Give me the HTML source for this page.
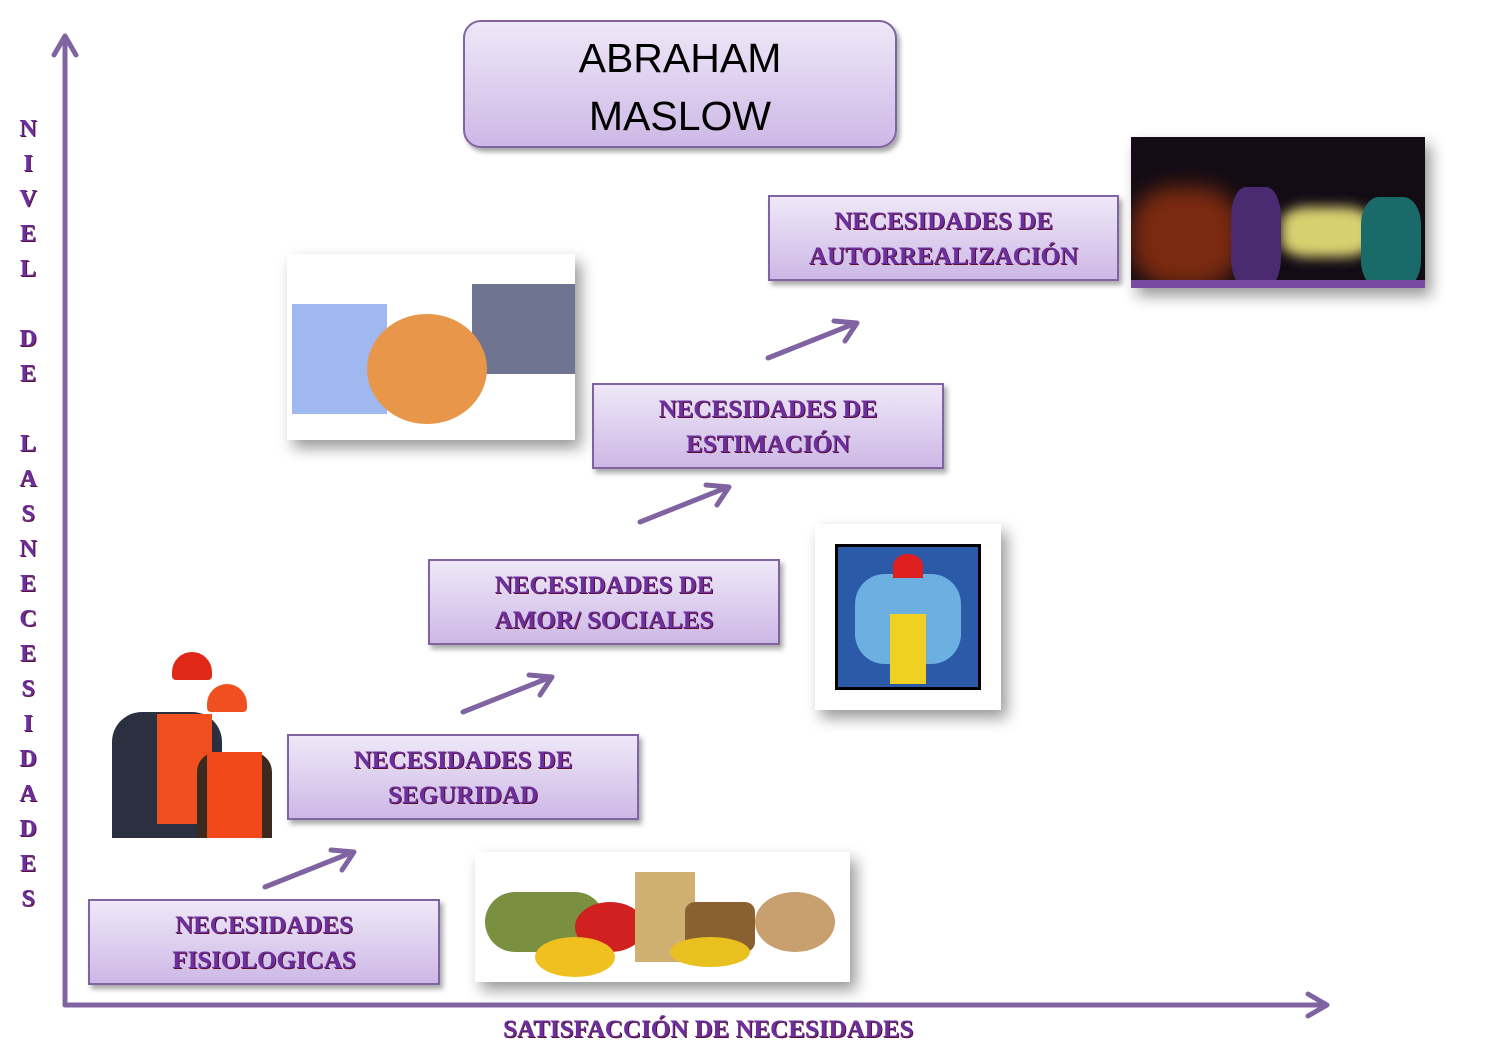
<!DOCTYPE html>
<html><head><meta charset="utf-8"><style>
body{margin:0;width:1491px;height:1055px;background:#fff;position:relative;overflow:hidden}
.t{position:absolute;font-family:"Liberation Serif",serif;font-weight:bold;color:#6b2fa0;text-shadow:1px 1px 0 #5a1030;}
.box{position:absolute;border:2px solid #8064a2;background:linear-gradient(#efe8f8,#cdb8e6);box-shadow:3px 4px 5px rgba(0,0,0,.35);display:flex;align-items:center;justify-content:center;text-align:center;font-family:"Liberation Serif",serif;font-weight:bold;font-size:25px;line-height:35px;color:#6b2fa0;text-shadow:1px 1px 0 #5a1030;box-sizing:border-box;padding-top:2px}
.img{position:absolute;box-shadow:6px 8px 14px rgba(0,0,0,.4)}
</style></head><body>
<div class="box" style="left:463px;top:20px;width:434px;height:128px;border-radius:18px;font-family:'Liberation Sans',sans-serif;font-weight:normal;font-size:41px;line-height:58px;color:#000;text-shadow:none;padding-top:6px">ABRAHAM<br>MASLOW</div>

<div class="box" style="left:88px;top:899px;width:352px;height:86px">NECESIDADES<br>FISIOLOGICAS</div>
<div class="box" style="left:287px;top:734px;width:352px;height:86px">NECESIDADES DE<br>SEGURIDAD</div>
<div class="box" style="left:428px;top:559px;width:352px;height:86px">NECESIDADES DE<br>AMOR/ SOCIALES</div>
<div class="box" style="left:592px;top:383px;width:352px;height:86px">NECESIDADES DE<br>ESTIMACIÓN</div>
<div class="box" style="left:768px;top:195px;width:351px;height:86px">NECESIDADES DE<br>AUTORREALIZACIÓN</div>

<svg style="position:absolute;left:0;top:0" width="1491" height="1055">
<g stroke="#8064a2" stroke-width="5" fill="none" stroke-linecap="round" stroke-linejoin="round">
<line x1="65" y1="38" x2="65" y2="1005"/><polyline points="54,55 65,36 76,55"/>
<line x1="65" y1="1005" x2="1326" y2="1005"/><polyline points="1308,994 1327,1005 1308,1016"/>
<line x1="265" y1="887" x2="353" y2="852"/><polyline points="331,850 354,852 342,870"/>
<line x1="463" y1="712" x2="551" y2="677"/><polyline points="529,675 552,677 540,695"/>
<line x1="640" y1="522" x2="728" y2="487"/><polyline points="706,485 729,487 717,505"/>
<line x1="768" y1="358" x2="856" y2="323"/><polyline points="834,321 857,323 845,341"/>
</g></svg>

<div class="t" style="left:17px;top:112px;width:22px;text-align:center;font-size:24px;line-height:35px">N<br>I<br>V<br>E<br>L<br>&nbsp;<br>D<br>E<br>&nbsp;<br>L<br>A<br>S<br>N<br>E<br>C<br>E<br>S<br>I<br>D<br>A<br>D<br>E<br>S</div>
<div class="t" style="left:503px;top:1016px;font-size:25px;white-space:nowrap">SATISFACCIÓN DE NECESIDADES</div>

<div class="img" style="left:287px;top:254px;width:288px;height:186px;background:#fff;overflow:hidden">
<div style="position:absolute;left:5px;top:50px;width:95px;height:110px;background:#9fb8f0"></div>
<div style="position:absolute;left:185px;top:30px;width:103px;height:90px;background:#6f7590"></div>
<div style="position:absolute;left:80px;top:60px;width:120px;height:110px;border-radius:50%;background:#e8964a"></div>
</div>
<div class="img" style="left:815px;top:524px;width:186px;height:186px;background:#fff">
<div style="position:absolute;left:20px;top:20px;width:146px;height:146px;background:#2b5aa8;border:3px solid #000;box-sizing:border-box"></div>
<div style="position:absolute;left:40px;top:50px;width:106px;height:90px;background:#6bb0e0;border-radius:30px"></div>
<div style="position:absolute;left:75px;top:90px;width:36px;height:70px;background:#f0d020"></div>
<div style="position:absolute;left:78px;top:30px;width:30px;height:24px;background:#e02020;border-radius:50% 50% 0 0"></div>
</div>
<div class="img" style="left:1131px;top:137px;width:294px;height:151px;background:#140c14;overflow:hidden">
<div style="position:absolute;left:0;top:50px;width:110px;height:100px;background:#7a2a10;border-radius:40%;filter:blur(10px)"></div>
<div style="position:absolute;left:150px;top:70px;width:90px;height:50px;background:#d8d070;border-radius:30%;filter:blur(6px)"></div>
<div style="position:absolute;left:100px;top:50px;width:50px;height:101px;background:#4a2a70;border-radius:30%"></div>
<div style="position:absolute;left:230px;top:60px;width:60px;height:91px;background:#1a6a6a;border-radius:30%"></div>
<div style="position:absolute;left:0;top:143px;width:294px;height:8px;background:#7a4aa0"></div>
</div>
<div class="img" style="left:475px;top:852px;width:375px;height:130px;background:#fff;overflow:hidden">
<div style="position:absolute;left:10px;top:40px;width:120px;height:60px;background:#7a9040;border-radius:30px"></div>
<div style="position:absolute;left:100px;top:50px;width:70px;height:50px;background:#d02020;border-radius:50%"></div>
<div style="position:absolute;left:160px;top:20px;width:60px;height:90px;background:#d0b070"></div>
<div style="position:absolute;left:210px;top:50px;width:70px;height:50px;background:#8a6030;border-radius:10px"></div>
<div style="position:absolute;left:60px;top:85px;width:80px;height:40px;background:#f0c020;border-radius:50%"></div>
<div style="position:absolute;left:195px;top:85px;width:80px;height:30px;background:#e8c020;border-radius:50%"></div>
<div style="position:absolute;left:280px;top:40px;width:80px;height:60px;background:#c8a070;border-radius:50%"></div>
</div>
<div style="position:absolute;left:112px;top:652px;width:160px;height:186px">
<div style="position:absolute;left:60px;top:0;width:40px;height:28px;background:#e02818;border-radius:20px 20px 4px 4px"></div>
<div style="position:absolute;left:95px;top:32px;width:40px;height:28px;background:#f05020;border-radius:20px 20px 4px 4px"></div>
<div style="position:absolute;left:0;top:60px;width:110px;height:126px;background:#2a3040;border-radius:30px 30px 0 0"></div>
<div style="position:absolute;left:45px;top:62px;width:55px;height:110px;background:#f05020"></div>
<div style="position:absolute;left:85px;top:100px;width:75px;height:86px;background:#3a2a20;border-radius:20px 20px 0 0"></div>
<div style="position:absolute;left:95px;top:100px;width:55px;height:86px;background:#f04818"></div>
</div>
</body></html>
